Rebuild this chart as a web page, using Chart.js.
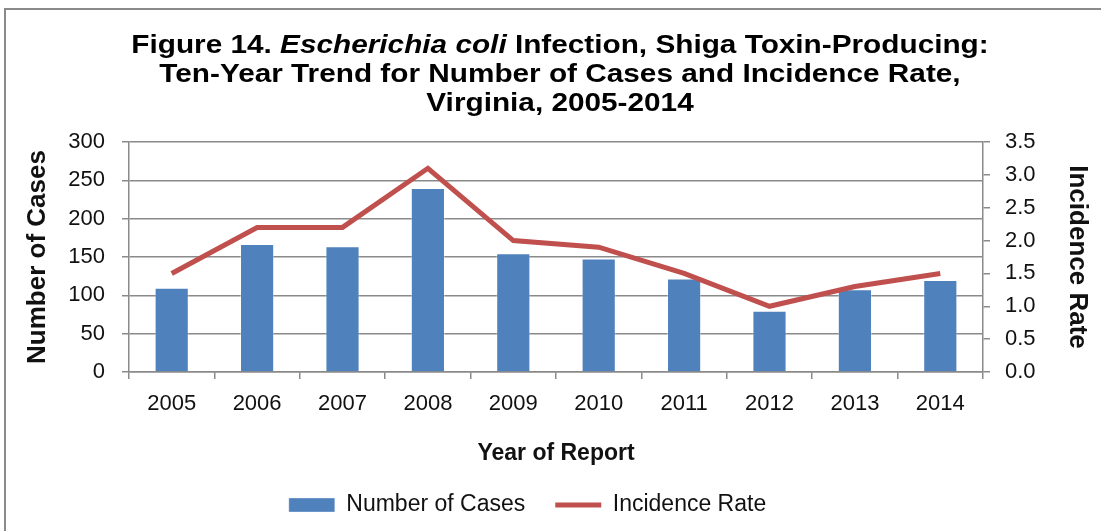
<!DOCTYPE html>
<html>
<head>
<meta charset="utf-8">
<script src="https://cdn.jsdelivr.net/npm/chart.js@4.4.1/dist/chart.umd.min.js"></script>
<style>
  html, body { margin: 0; padding: 0; background: #fff; }
  #wrap { position: relative; width: 1101px; height: 531px; overflow: hidden; background: #fff; }
  #frame { position: absolute; left: 4px; top: 8px; width: 1200px; height: 700px; border: 2px solid #8a8a8a; box-sizing: border-box; }
  #title {
    position: absolute; left: 0; top: 30px; width: 1120px; text-align: center;
    font: bold 25px "Liberation Sans", Arial, sans-serif; line-height: 29px; color: #000;
    transform: scaleX(1.19); transform-origin: 560px 0;
  }
  #chart { position: absolute; left: 0; top: 0; }
</style>
</head>
<body>
<div id="wrap">
  <div id="frame"></div>
  <canvas id="chart" width="1101" height="531"></canvas>
  <div id="title">Figure 14. <i>Escherichia coli</i> Infection, Shiga Toxin-Producing:<br>Ten-Year Trend for Number of Cases and Incidence Rate,<br>Virginia, 2005-2014</div>
</div>
<script>
// Data
const years = ['2005', '2006', '2007', '2008', '2009', '2010', '2011', '2012', '2013', '2014'];
const cases = [110, 167, 164, 240, 155, 148, 122, 80, 108, 120];
const incidenceRate = [1.5, 2.2, 2.2, 3.1, 2.0, 1.9, 1.5, 1.0, 1.3, 1.5];

const gridGray = '#8a8a8a';
const textColor = '#111111';
const fontFamily = '"Liberation Sans", Arial, sans-serif';

// nudge the legend a bit left/down, like the original
const legendShift = {
  id: 'legendShift',
  afterLayout(chart) {
    const lg = chart.legend;
    if (!lg) return;
    lg.left -= 23;
    lg.right -= 23;
    lg.top += 2;
    lg.bottom += 2;
  }
};

function initChart() {
  if (typeof Chart === 'undefined') {
    setTimeout(initChart, 100);
    return;
  }
  const ctx = document.getElementById('chart');

  new Chart(ctx, {
    data: {
      labels: years,
      datasets: [{
        type: 'bar',
        label: 'Number of Cases',
        data: cases,
        yAxisID: 'y',
        backgroundColor: '#4F81BD',
        borderColor: 'rgba(255, 255, 255, 0.35)',
        borderWidth: 1,
        categoryPercentage: 1.0,
        barPercentage: 0.4,
        pointStyle: 'rect',
        order: 1
      }, {
        type: 'line',
        label: 'Incidence Rate',
        data: incidenceRate,
        yAxisID: 'y1',
        borderColor: '#C0504D',
        backgroundColor: '#C0504D',
        borderWidth: 5,
        pointRadius: 0,
        pointStyle: 'line',
        tension: 0,
        order: 0
      }]
    },
    plugins: [legendShift],
    options: {
      responsive: false,
      animation: false,
      layout: {
        padding: { top: 142, left: 0, right: 0, bottom: 6.5 }
      },
      plugins: {
        title: { display: false },
        tooltip: { enabled: false },
        legend: {
          position: 'bottom',
          labels: {
            usePointStyle: true,
            pointStyleWidth: 46,
            boxHeight: 14,
            padding: 30,
            color: textColor,
            font: { family: fontFamily, size: 23 },
            sort: function(a, b) { return a.datasetIndex - b.datasetIndex; }
          }
        }
      },
      scales: {
        x: {
          afterFit: function(scale) { scale.height = 89.5; },
          grid: {
            offset: true,
            drawOnChartArea: false,
            drawTicks: true,
            tickLength: 7,
            color: gridGray,
            lineWidth: 1.5
          },
          border: { display: true, color: gridGray, width: 1.5 },
          ticks: {
            color: textColor,
            padding: 12,
            font: { family: fontFamily, size: 22 }
          },
          title: {
            display: true,
            text: 'Year of Report',
            color: textColor,
            padding: { top: 0, bottom: -6.3 },
            font: { family: fontFamily, size: 23, weight: 'bold' }
          }
        },
        y: {
          position: 'left',
          min: 0,
          max: 300,
          afterFit: function(scale) { scale.width = 129; },
          ticks: {
            stepSize: 50,
            color: textColor,
            padding: 17,
            font: { family: fontFamily, size: 22 }
          },
          grid: {
            color: gridGray,
            lineWidth: 1.5,
            tickLength: 7
          },
          border: { display: true, color: gridGray, width: 1.5 },
          title: {
            display: true,
            text: 'Number of Cases',
            color: textColor,
            padding: { top: 22, bottom: 0 },
            font: { family: fontFamily, size: 26, weight: 'bold' }
          }
        },
        y1: {
          position: 'right',
          min: 0,
          max: 3.5,
          afterFit: function(scale) { scale.width = 118; },
          ticks: {
            stepSize: 0.5,
            color: textColor,
            padding: 15,
            font: { family: fontFamily, size: 22 },
            callback: function(v) { return Number(v).toFixed(1); }
          },
          grid: {
            drawOnChartArea: false,
            color: gridGray,
            lineWidth: 1.5,
            tickLength: 7
          },
          border: { display: true, color: gridGray, width: 1.5 },
          title: {
            display: true,
            text: 'Incidence Rate',
            color: textColor,
            padding: { top: 8, bottom: 0 },
            font: { family: fontFamily, size: 26, weight: 'bold' }
          }
        }
      }
    }
  });
}

if (document.readyState === 'loading') {
  document.addEventListener('DOMContentLoaded', initChart);
} else {
  initChart();
}
</script>
</body>
</html>
